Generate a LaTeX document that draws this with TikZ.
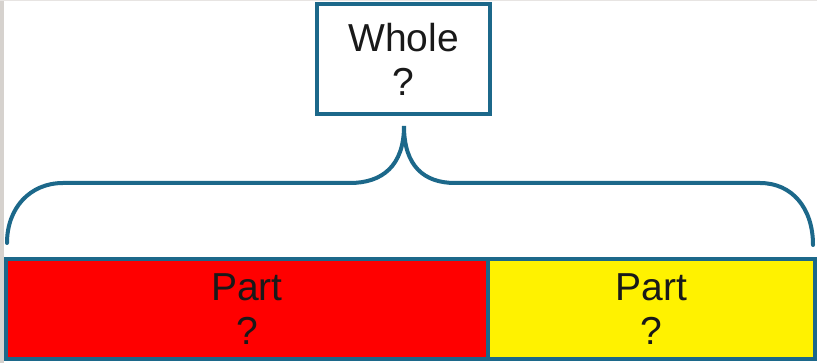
\documentclass[tikz,border=0pt]{standalone}
\usepackage{fontspec}
\setmainfont{Liberation Sans}
\definecolor{edge}{RGB}{28,104,138}
\definecolor{strip}{RGB}{214,210,206}
\definecolor{txt}{RGB}{25,25,25}
\begin{document}
\begin{tikzpicture}[x=1pt,y=-1pt,
  box/.style={draw=edge,line width=4pt,inner sep=0pt,align=center,text=txt,
    font=\fontsize{39}{44}\selectfont},
  bracepath/.style={draw=edge,line width=4pt,line cap=round}]
\useasboundingbox (0,0) rectangle (817,363);
\fill[white] (0,0) rectangle (817,363);
\fill[strip] (0,0) rectangle (4,363);
\fill[strip!60] (0,0) rectangle (817,1);
% Whole box
\node[box,fill=white,minimum width=173pt,minimum height=110pt] (whole) at (403.5,59) {Whole\\?};
% parts
\node[box,fill=red,minimum width=482pt,minimum height=100pt] (partA) at (247,309) {Part\\?};
\node[box,fill=yellow,minimum width=327pt,minimum height=100pt] (partB) at (651.5,309) {Part\\?};
% brace
\coordinate (peak) at (404,126);
\coordinate (lend) at (7,243);
\coordinate (rend) at (813,245);
\draw[bracepath] (lend) .. controls (7,208) and (30,183) .. (63,183)
  -- (350,183) .. controls (382,183) and (404,166) .. (peak)
  .. controls (404,166) and (424,183) .. (455,183)
  -- (760,183) .. controls (792,183) and (813,208) .. (rend);
\end{tikzpicture}
\end{document}
